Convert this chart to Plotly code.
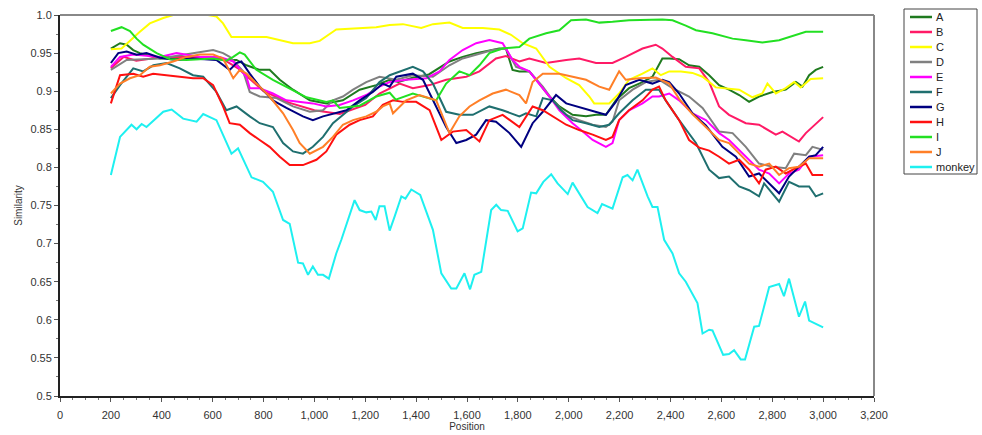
import plotly.graph_objects as go

# ---------------- data ----------------
names = ["A", "B", "C", "D", "E", "F", "G", "H", "I", "J", "monkey"]
colors = ["#1f7a1f", "#ff1a66", "#ffff00", "#808080", "#ff00ff", "#1f6f6f",
          "#000080", "#ff1010", "#22e022", "#ff7f27", "#1ef0f0"]

A_x = [200, 236, 262, 288, 314, 393, 523, 615, 654, 694, 733, 785, 824, 864, 916, 982, 1047, 1112, 1178, 1243, 1296, 1330, 1390, 1450, 1531, 1583, 1636, 1688, 1727, 1753, 1779, 1806, 1845, 1884, 1924, 1963, 2015, 2068, 2107, 2146, 2185, 2237, 2290, 2329, 2368, 2395, 2434, 2473, 2513, 2552, 2591, 2630, 2670, 2709, 2748, 2801, 2853, 2893, 2919, 2945, 2971, 3000]
A_y = [0.956, 0.963, 0.961, 0.954, 0.950, 0.943, 0.943, 0.945, 0.941, 0.941, 0.934, 0.928, 0.928, 0.915, 0.902, 0.888, 0.884, 0.888, 0.902, 0.908, 0.915, 0.912, 0.918, 0.922, 0.939, 0.945, 0.950, 0.954, 0.956, 0.956, 0.928, 0.926, 0.926, 0.910, 0.893, 0.880, 0.869, 0.867, 0.869, 0.869, 0.888, 0.904, 0.912, 0.919, 0.943, 0.943, 0.942, 0.934, 0.932, 0.921, 0.908, 0.902, 0.895, 0.886, 0.893, 0.899, 0.902, 0.912, 0.906, 0.921, 0.928, 0.932]

B_x = [200, 250, 300, 400, 500, 600, 650, 700, 750, 800, 900, 1000, 1100, 1200, 1256, 1335, 1387, 1453, 1518, 1597, 1649, 1714, 1753, 1806, 1845, 1911, 1990, 2041, 2107, 2172, 2224, 2290, 2342, 2368, 2408, 2460, 2513, 2552, 2591, 2630, 2696, 2748, 2814, 2840, 2905, 2932, 3000]
B_y = [0.930, 0.945, 0.940, 0.945, 0.945, 0.945, 0.940, 0.930, 0.915, 0.900, 0.885, 0.875, 0.870, 0.882, 0.897, 0.910, 0.904, 0.908, 0.915, 0.919, 0.926, 0.943, 0.946, 0.939, 0.943, 0.937, 0.941, 0.943, 0.937, 0.937, 0.945, 0.956, 0.961, 0.956, 0.945, 0.932, 0.930, 0.912, 0.880, 0.869, 0.858, 0.856, 0.843, 0.847, 0.834, 0.845, 0.866]

C_x = [200, 242, 314, 353, 406, 445, 582, 615, 641, 674, 812, 916, 982, 1021, 1073, 1086, 1243, 1296, 1348, 1420, 1466, 1531, 1583, 1662, 1727, 1773, 1819, 1872, 1924, 1950, 1990, 2041, 2081, 2100, 2159, 2198, 2237, 2290, 2329, 2362, 2395, 2441, 2486, 2526, 2578, 2670, 2722, 2761, 2781, 2814, 2853, 2886, 2912, 2951, 3000]
C_y = [0.955, 0.956, 0.978, 0.989, 0.996, 1.000, 1.000, 0.998, 0.989, 0.971, 0.971, 0.963, 0.963, 0.966, 0.978, 0.981, 0.984, 0.987, 0.988, 0.983, 0.988, 0.990, 0.983, 0.983, 0.981, 0.974, 0.963, 0.956, 0.932, 0.926, 0.917, 0.908, 0.893, 0.884, 0.884, 0.897, 0.915, 0.923, 0.930, 0.921, 0.926, 0.926, 0.924, 0.919, 0.905, 0.902, 0.892, 0.897, 0.910, 0.897, 0.904, 0.912, 0.905, 0.916, 0.917]

D_x = [200, 262, 393, 523, 602, 641, 667, 720, 746, 785, 851, 916, 982, 1034, 1073, 1112, 1152, 1204, 1256, 1322, 1387, 1466, 1531, 1583, 1636, 1701, 1753, 1793, 1845, 1898, 1937, 1990, 2041, 2094, 2146, 2172, 2198, 2251, 2303, 2355, 2408, 2473, 2526, 2591, 2644, 2696, 2748, 2801, 2853, 2886, 2932, 2958, 3000]
D_y = [0.928, 0.941, 0.943, 0.950, 0.954, 0.950, 0.945, 0.926, 0.899, 0.893, 0.891, 0.880, 0.873, 0.875, 0.888, 0.893, 0.902, 0.912, 0.919, 0.915, 0.921, 0.919, 0.934, 0.943, 0.948, 0.954, 0.956, 0.932, 0.926, 0.906, 0.888, 0.869, 0.862, 0.856, 0.853, 0.860, 0.888, 0.902, 0.912, 0.915, 0.904, 0.893, 0.878, 0.847, 0.845, 0.827, 0.805, 0.801, 0.799, 0.818, 0.816, 0.827, 0.823]

E_x = [200, 236, 288, 393, 458, 550, 628, 681, 733, 746, 785, 837, 890, 942, 994, 1047, 1099, 1152, 1204, 1256, 1296, 1361, 1440, 1492, 1531, 1583, 1636, 1688, 1740, 1779, 1806, 1845, 1884, 1924, 1963, 2015, 2055, 2094, 2146, 2172, 2198, 2237, 2290, 2329, 2355, 2395, 2434, 2486, 2539, 2591, 2630, 2670, 2709, 2748, 2788, 2827, 2866, 2905, 2945, 3000]
E_y = [0.932, 0.945, 0.948, 0.945, 0.950, 0.945, 0.945, 0.939, 0.919, 0.904, 0.904, 0.897, 0.888, 0.886, 0.884, 0.880, 0.882, 0.888, 0.895, 0.906, 0.912, 0.915, 0.917, 0.926, 0.941, 0.954, 0.963, 0.967, 0.963, 0.941, 0.932, 0.926, 0.910, 0.893, 0.875, 0.858, 0.847, 0.836, 0.827, 0.832, 0.862, 0.875, 0.884, 0.893, 0.893, 0.897, 0.888, 0.871, 0.862, 0.845, 0.836, 0.823, 0.810, 0.797, 0.792, 0.779, 0.792, 0.797, 0.814, 0.816]

F_x = [200, 236, 288, 327, 367, 419, 471, 523, 563, 615, 654, 694, 746, 785, 837, 877, 916, 955, 994, 1034, 1073, 1112, 1152, 1204, 1256, 1296, 1387, 1427, 1466, 1518, 1570, 1623, 1688, 1740, 1806, 1832, 1872, 1898, 1937, 1970, 2015, 2068, 2120, 2159, 2198, 2251, 2303, 2355, 2381, 2434, 2500, 2552, 2591, 2630, 2670, 2709, 2748, 2768, 2801, 2827, 2866, 2905, 2945, 2971, 3000]
F_y = [0.891, 0.908, 0.930, 0.926, 0.934, 0.937, 0.930, 0.921, 0.919, 0.899, 0.875, 0.880, 0.867, 0.858, 0.853, 0.832, 0.821, 0.818, 0.827, 0.840, 0.858, 0.869, 0.880, 0.891, 0.912, 0.921, 0.932, 0.926, 0.910, 0.873, 0.869, 0.869, 0.880, 0.875, 0.867, 0.871, 0.867, 0.891, 0.888, 0.875, 0.862, 0.858, 0.853, 0.856, 0.871, 0.888, 0.902, 0.902, 0.888, 0.862, 0.832, 0.797, 0.786, 0.788, 0.775, 0.770, 0.762, 0.779, 0.766, 0.755, 0.781, 0.775, 0.775, 0.762, 0.766]

G_x = [200, 229, 262, 301, 340, 393, 458, 523, 615, 667, 694, 713, 746, 785, 837, 890, 955, 994, 1034, 1086, 1126, 1178, 1230, 1269, 1296, 1322, 1387, 1427, 1466, 1518, 1558, 1597, 1636, 1675, 1714, 1767, 1813, 1858, 1898, 1950, 1990, 2029, 2081, 2146, 2185, 2224, 2277, 2329, 2368, 2395, 2434, 2486, 2539, 2604, 2657, 2709, 2748, 2788, 2827, 2866, 2905, 2945, 2971, 3000]
G_y = [0.937, 0.950, 0.952, 0.948, 0.950, 0.944, 0.941, 0.943, 0.941, 0.928, 0.937, 0.939, 0.923, 0.906, 0.888, 0.878, 0.867, 0.862, 0.867, 0.871, 0.875, 0.888, 0.899, 0.910, 0.906, 0.919, 0.923, 0.915, 0.888, 0.853, 0.832, 0.836, 0.843, 0.862, 0.860, 0.845, 0.827, 0.858, 0.873, 0.895, 0.884, 0.880, 0.875, 0.869, 0.886, 0.908, 0.915, 0.910, 0.915, 0.912, 0.897, 0.871, 0.855, 0.827, 0.814, 0.788, 0.792, 0.779, 0.766, 0.788, 0.801, 0.814, 0.816, 0.827]

H_x = [200, 236, 288, 327, 366, 419, 458, 523, 563, 602, 641, 667, 707, 746, 785, 824, 864, 903, 955, 1008, 1047, 1086, 1139, 1178, 1230, 1269, 1309, 1348, 1400, 1453, 1499, 1544, 1597, 1649, 1688, 1740, 1806, 1858, 1898, 1937, 1990, 2041, 2094, 2146, 2172, 2198, 2237, 2290, 2329, 2355, 2381, 2434, 2473, 2513, 2552, 2591, 2630, 2670, 2709, 2748, 2774, 2814, 2853, 2892, 2932, 2958, 3000]
H_y = [0.884, 0.921, 0.923, 0.919, 0.923, 0.921, 0.919, 0.917, 0.917, 0.908, 0.880, 0.858, 0.856, 0.845, 0.836, 0.827, 0.814, 0.803, 0.803, 0.810, 0.821, 0.843, 0.856, 0.862, 0.867, 0.882, 0.888, 0.886, 0.886, 0.875, 0.836, 0.847, 0.849, 0.834, 0.862, 0.869, 0.853, 0.880, 0.875, 0.867, 0.856, 0.849, 0.843, 0.836, 0.840, 0.862, 0.875, 0.888, 0.902, 0.906, 0.888, 0.862, 0.836, 0.826, 0.822, 0.814, 0.805, 0.810, 0.797, 0.779, 0.797, 0.801, 0.792, 0.799, 0.805, 0.790, 0.790]

I_x = [200, 242, 275, 301, 327, 380, 432, 497, 602, 654, 681, 707, 726, 772, 837, 903, 969, 1047, 1073, 1099, 1178, 1243, 1296, 1320, 1387, 1479, 1518, 1570, 1610, 1649, 1688, 1740, 1806, 1845, 1911, 1963, 2009, 2068, 2120, 2172, 2237, 2368, 2408, 2460, 2500, 2565, 2644, 2696, 2761, 2827, 2879, 2932, 3000]
I_y = [0.979, 0.984, 0.979, 0.969, 0.961, 0.950, 0.942, 0.941, 0.943, 0.940, 0.945, 0.951, 0.948, 0.928, 0.915, 0.904, 0.892, 0.886, 0.888, 0.878, 0.881, 0.893, 0.898, 0.889, 0.897, 0.888, 0.910, 0.926, 0.921, 0.934, 0.950, 0.956, 0.958, 0.969, 0.976, 0.980, 0.993, 0.994, 0.990, 0.991, 0.993, 0.994, 0.993, 0.986, 0.980, 0.976, 0.969, 0.967, 0.964, 0.967, 0.972, 0.978, 0.978]

J_x = [200, 236, 275, 314, 353, 393, 445, 497, 550, 602, 641, 681, 707, 733, 785, 824, 877, 916, 942, 982, 1034, 1073, 1112, 1152, 1204, 1243, 1269, 1296, 1309, 1361, 1413, 1479, 1531, 1570, 1610, 1649, 1701, 1753, 1806, 1832, 1858, 1898, 1963, 2015, 2068, 2120, 2159, 2198, 2224, 2277, 2342, 2395, 2434, 2486, 2539, 2591, 2630, 2670, 2709, 2748, 2788, 2827, 2866, 2905, 2945, 3000]
J_y = [0.897, 0.910, 0.917, 0.921, 0.932, 0.934, 0.939, 0.945, 0.948, 0.948, 0.943, 0.917, 0.928, 0.923, 0.906, 0.893, 0.871, 0.849, 0.832, 0.818, 0.827, 0.840, 0.856, 0.862, 0.867, 0.873, 0.880, 0.884, 0.871, 0.888, 0.895, 0.888, 0.845, 0.867, 0.880, 0.888, 0.897, 0.902, 0.895, 0.884, 0.912, 0.923, 0.923, 0.919, 0.915, 0.906, 0.902, 0.926, 0.915, 0.917, 0.918, 0.910, 0.890, 0.870, 0.853, 0.836, 0.832, 0.818, 0.805, 0.801, 0.805, 0.790, 0.799, 0.801, 0.812, 0.812]

monkey_x = [200, 236, 281, 301, 321, 340, 406, 439, 484, 510, 537, 563, 615, 674, 700, 753, 798, 837, 877, 903, 936, 955, 975, 994, 1014, 1034, 1057, 1086, 1106, 1158, 1178, 1204, 1224, 1241, 1256, 1276, 1296, 1315, 1342, 1358, 1381, 1416, 1433, 1466, 1499, 1538, 1558, 1590, 1612, 1629, 1656, 1695, 1715, 1734, 1760, 1799, 1819, 1852, 1872, 1900, 1931, 1956, 1996, 2015, 2074, 2113, 2131, 2172, 2212, 2231, 2251, 2270, 2310, 2329, 2349, 2375, 2408, 2434, 2460, 2506, 2526, 2552, 2565, 2607, 2630, 2650, 2676, 2693, 2729, 2748, 2788, 2827, 2846, 2866, 2905, 2929, 2945, 3000]
monkey_y = [0.790, 0.840, 0.856, 0.850, 0.857, 0.853, 0.873, 0.876, 0.864, 0.862, 0.860, 0.870, 0.862, 0.818, 0.825, 0.787, 0.781, 0.768, 0.731, 0.726, 0.675, 0.674, 0.659, 0.670, 0.659, 0.659, 0.654, 0.687, 0.705, 0.757, 0.744, 0.741, 0.742, 0.731, 0.749, 0.749, 0.717, 0.735, 0.762, 0.759, 0.771, 0.764, 0.748, 0.718, 0.661, 0.641, 0.641, 0.661, 0.640, 0.659, 0.663, 0.744, 0.751, 0.744, 0.743, 0.716, 0.720, 0.767, 0.766, 0.781, 0.791, 0.779, 0.765, 0.780, 0.748, 0.740, 0.752, 0.746, 0.787, 0.790, 0.783, 0.797, 0.762, 0.748, 0.748, 0.705, 0.687, 0.661, 0.650, 0.622, 0.582, 0.587, 0.586, 0.554, 0.555, 0.560, 0.548, 0.548, 0.591, 0.592, 0.643, 0.647, 0.631, 0.654, 0.604, 0.624, 0.599, 0.590]

series_x = [A_x, B_x, C_x, D_x, E_x, F_x, G_x, H_x, I_x, J_x, monkey_x]
series_y = [A_y, B_y, C_y, D_y, E_y, F_y, G_y, H_y, I_y, J_y, monkey_y]

x_ticks = list(range(0, 3201, 200))
y_ticks = [0.5, 0.55, 0.6, 0.65, 0.7, 0.75, 0.8, 0.85, 0.9, 0.95, 1.0]
y_tick_text = ["0.5", "0.55", "0.6", "0.65", "0.7", "0.75", "0.8", "0.85", "0.9", "0.95", "1.0"]

for n, xs, ys in zip(names, series_x, series_y):
    assert len(xs) == len(ys), (n, len(xs), len(ys))

# ---------------- figure ----------------
W, H = 982, 435
L, R, T, B = 60, 108, 15, 39
plot_w, plot_h = W - L - R, H - T - B

def px_to_paper_x(px):
    return (px - L) / plot_w

def px_to_paper_y(py):
    return 1 - (py - T) / plot_h

fig = go.Figure()
for n, c, xs, ys in zip(names, colors, series_x, series_y):
    fig.add_trace(go.Scatter(x=xs, y=ys, mode="lines", name=n,
                             line=dict(color=c, width=2), showlegend=False))

font_family = "Liberation Sans, Arial, sans-serif"

# frame: top and right borders in grey (left/bottom are the axis lines)
shapes = [
    dict(type="line", xref="paper", yref="paper", x0=0, x1=1, y0=1, y1=1,
         line=dict(color="#888888", width=2), layer="above"),
    dict(type="line", xref="paper", yref="paper", x0=1, x1=1, y0=0, y1=1,
         line=dict(color="#888888", width=2), layer="above"),
]
annotations = []

# legend box drawn in the right margin, entries built from names/colors
box_left, box_right, box_top, box_bottom = 904, 977, 9, 174
shapes.append(dict(type="rect", xref="paper", yref="paper",
                   x0=px_to_paper_x(box_left), x1=px_to_paper_x(box_right),
                   y0=px_to_paper_y(box_bottom), y1=px_to_paper_y(box_top),
                   line=dict(color="#444444", width=1), fillcolor="white"))
row0, row_gap = 17, 15
for i, (n, c) in enumerate(zip(names, colors)):
    yy = px_to_paper_y(row0 + row_gap * i)
    shapes.append(dict(type="line", xref="paper", yref="paper",
                       x0=px_to_paper_x(910), x1=px_to_paper_x(932), y0=yy, y1=yy,
                       line=dict(color=c, width=2.5)))
    annotations.append(dict(xref="paper", yref="paper", x=px_to_paper_x(934), y=yy,
                            text=n, showarrow=False, xanchor="left", yanchor="middle",
                            font=dict(family=font_family, size=11, color="#222222")))

fig.update_layout(
    width=W, height=H,
    margin=dict(l=L, r=R, t=T, b=B, autoexpand=False),
    plot_bgcolor="white", paper_bgcolor="white",
    font=dict(family=font_family, size=11, color="#333333"),
    showlegend=False,
    xaxis=dict(range=[0, 3200], tickvals=x_ticks, tickformat=",d",
               automargin=False,
               ticks="outside", ticklen=4, tickcolor="#555555",
               ticklabelstandoff=4,
               showline=True, linecolor="#222222", linewidth=2,
               showgrid=False, zeroline=False,
               tickfont=dict(size=11, color="#333333"),
               minor=dict(dtick=50, ticks="outside", ticklen=2, tickcolor="#777777"),
               title=dict(text="Position", font=dict(size=10, color="#333333"), standoff=2)),
    yaxis=dict(range=[0.5, 1.0], tickvals=y_ticks, ticktext=y_tick_text,
               automargin=False,
               ticks="outside", ticklen=4, tickcolor="#555555",
               showline=True, linecolor="#222222", linewidth=2,
               showgrid=False, zeroline=False,
               tickfont=dict(size=11, color="#333333"),
               minor=dict(dtick=0.025, ticks="outside", ticklen=2, tickcolor="#777777"),
               title=dict(text="Similarity", font=dict(size=10, color="#333333"), standoff=6)),
    shapes=shapes,
    annotations=annotations,
)

fig.write_html("out.html")
